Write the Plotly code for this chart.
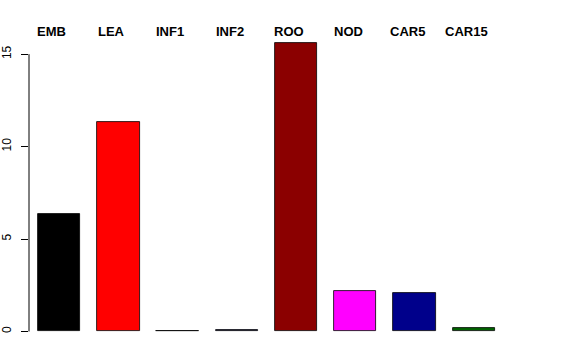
import plotly.graph_objects as go

categories = ["EMB", "LEA", "INF1", "INF2", "ROO", "NOD", "CAR5", "CAR15"]
values = [6.37, 11.32, 0.03, 0.06, 15.58, 2.18, 2.07, 0.2]
bar_colors = ["#000000", "#FF0000", "#2E6B2E", "#2E2E6B", "#8B0000", "#FF00FF", "#00008B", "#006400"]
y_ticks = [0, 5, 10, 15]

# R-style barplot geometry: width 1, space 0.4
pitch = 1.4
centers = [0.9 + pitch * i for i in range(len(categories))]

fig = go.Figure()
fig.add_trace(go.Bar(
    x=centers, y=values, width=1.0,
    marker=dict(color=bar_colors, line=dict(color="#000000", width=0.8)),
    showlegend=False, hoverinfo="skip",
))

for c, name in zip(centers, categories):
    fig.add_annotation(
        x=c - 0.17, y=1, xref="x", yref="paper", yshift=1, text="<b>%s</b>" % name,
        showarrow=False, xanchor="center", yanchor="middle",
        font=dict(family="Liberation Sans, Arial, sans-serif", size=13, color="#000000"),
    )

# R-style axis line spanning only the tick range
fig.add_shape(type="line", xref="paper", yref="y", x0=0, x1=0, y0=y_ticks[0], y1=y_ticks[-1],
              line=dict(color="#000000", width=1))

fig.update_layout(
    width=576, height=360,
    margin=dict(l=29, r=30, t=32, b=17, pad=0),
    paper_bgcolor="#FFFFFF", plot_bgcolor="#FFFFFF",
    bargap=0,
    font=dict(family="Liberation Sans, Arial, sans-serif", size=12, color="#000000"),
    xaxis=dict(range=[0.187, 12.41], visible=False, showgrid=False, zeroline=False,
               automargin=False),
    yaxis=dict(range=[-0.623, 16.2], tickvals=y_ticks, ticktext=[str(v) for v in y_ticks],
               tickangle=-90, ticks="outside", ticklen=7, tickwidth=1, tickcolor="#000000",
               showline=False, showgrid=False, zeroline=False, automargin=False,
               ticklabelstandoff=5,
               tickfont=dict(size=12, color="#000000")),
)

fig.write_html("out.html", config={"displayModeBar": False},
               post_script="document.body.style.margin='0px';")
